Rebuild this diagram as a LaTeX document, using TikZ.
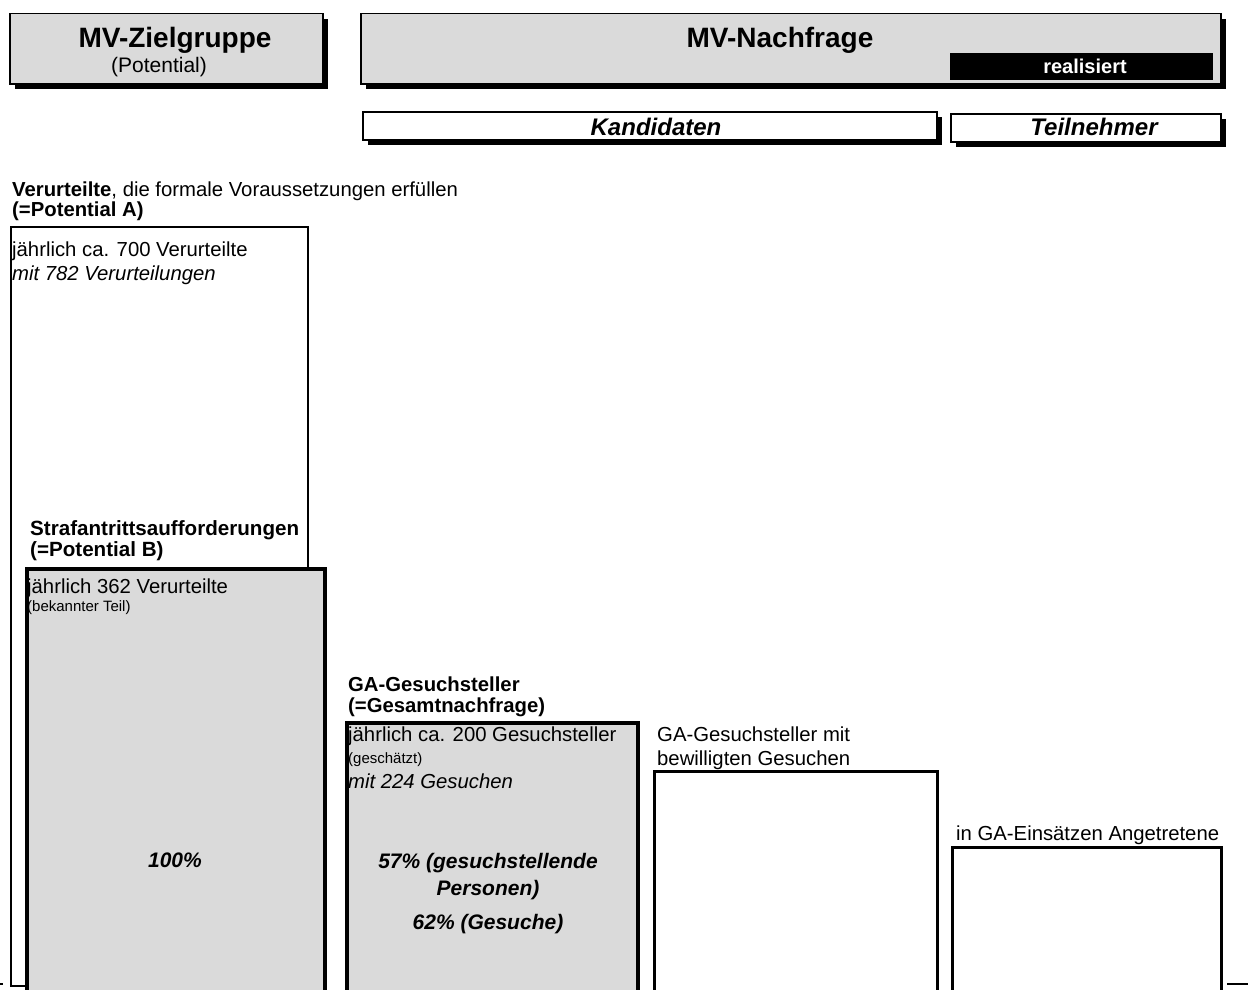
\documentclass[tikz,border=0pt]{standalone}
\usepackage{fontspec}
\setmainfont{Liberation Sans}
\usetikzlibrary{shadows}
\definecolor{fillgray}{RGB}{218,218,218}
\newcommand\myfs[1]{\fontsize{#1}{#1}\selectfont}
\tikzset{
  hdr/.style={draw=black, line width=1.5pt, fill=fillgray, inner sep=0pt, anchor=north west,
    drop shadow={shadow xshift=5pt, shadow yshift=-5pt, opacity=1, fill=black}},
  sub/.style={draw=black, line width=1.5pt, fill=white, inner sep=0pt, anchor=north west,
    drop shadow={shadow xshift=5pt, shadow yshift=-5pt, opacity=1, fill=black}},
  barw/.style={draw=black, line width=2.2pt, fill=white, inner sep=0pt, anchor=north west},
  barg/.style={draw=black, line width=4pt, fill=fillgray, inner sep=0pt, anchor=north west},
  lbl/.style={inner sep=0pt, anchor=base west, font=\myfs{20.3}},
  small/.style={inner sep=0pt, anchor=base west, font=\myfs{15}},
  pct/.style={inner sep=0pt, anchor=base, font=\myfs{21}\bfseries\itshape},
}
\begin{document}
\begin{tikzpicture}[x=1pt,y=-1pt]
\useasboundingbox (0,0) rectangle (1255,990);
\clip (0,0) rectangle (1255,990);
% header boxes
\node[hdr, minimum width=313pt, minimum height=70pt] (zg) at (9,13) {};
\node[inner sep=0pt, anchor=base, font=\myfs{28}\bfseries] (zgt) at (175,48) {MV-Zielgruppe};
\node[inner sep=0pt, anchor=base, font=\myfs{21}] (zgs) at (159,72) {(Potential)};
\node[hdr, minimum width=860pt, minimum height=70pt] (nf) at (360,13) {};
\node[inner sep=0pt, anchor=base, font=\myfs{28}\bfseries] (nft) at (780,48) {MV-Nachfrage};
\node[fill=black, inner sep=0pt, anchor=north west, minimum width=263pt, minimum height=27pt] (real) at (950,53) {};
\node[inner sep=0pt, anchor=base, font=\myfs{20}\bfseries, text=white] (realt) at (1085,74) {realisiert};
\node[sub, minimum width=574pt, minimum height=28pt] (kand) at (362,111) {};
\node[inner sep=0pt, anchor=base, font=\myfs{24}\bfseries\itshape] (kandt) at (656,135) {Kandidaten};
\node[sub, minimum width=270pt, minimum height=28pt] (teil) at (950,113) {};
\node[inner sep=0pt, anchor=base, font=\myfs{24}\bfseries\itshape] (teilt) at (1094,135) {Teilnehmer};
% bars
\node[barw, minimum width=297pt, minimum height=759pt] (pa) at (10,226) {};
\node[lbl] (pal1) at (12,196) {\textbf{Verurteilte}, die formale Voraussetzungen erfüllen};
\node[lbl, font=\myfs{20.3}\bfseries] (pal2) at (12,216) {(=Potential A)};
\node[lbl] (pai1) at (12,256) {jährlich ca. 700 Verurteilte};
\node[lbl, font=\myfs{20.3}\itshape] (pai2) at (12,280) {mit 782 Verurteilungen};

\node[barg, minimum width=298pt, minimum height=440pt] (pb) at (25,567) {};
\node[lbl, font=\myfs{20.6}\bfseries] (pbl1) at (30,535) {Strafantrittsaufforderungen};
\node[lbl, font=\myfs{20.6}\bfseries] (pbl2) at (30,556) {(=Potential B)};
\node[lbl] (pbi1) at (27,593) {jährlich 362 Verurteilte};
\node[small] (pbi2) at (27,611) {(bekannter Teil)};
\node[pct] (pbp) at (175,867) {100\%};

\node[barg, minimum width=291pt, minimum height=290pt] (ga) at (345,721) {};
\node[lbl, font=\myfs{20.3}\bfseries] (gal1) at (348,691) {GA-Gesuchsteller};
\node[lbl, font=\myfs{20.3}\bfseries] (gal2) at (348,712) {(=Gesamtnachfrage)};
\node[lbl] (gai1) at (348,741) {jährlich ca. 200 Gesuchsteller};
\node[small] (gai2) at (348,763) {(geschätzt)};
\node[lbl, font=\myfs{20.3}\itshape] (gai3) at (348,788) {mit 224 Gesuchen};
\node[pct] (gap1) at (488,868) {57\% (gesuchstellende};
\node[pct] (gap2) at (488,895) {Personen)};
\node[pct] (gap3) at (488,929) {62\% (Gesuche)};

\node[barw, minimum width=283pt, minimum height=240pt, line width=2.5pt] (bw) at (653,770) {};
\node[lbl] (bwl1) at (657,741) {GA-Gesuchsteller mit};
\node[lbl] (bwl2) at (657,765) {bewilligten Gesuchen};

\node[barw, minimum width=269pt, minimum height=164pt, line width=2.5pt] (an) at (951,846) {};
\node[lbl] (anl) at (956,840) {in GA-Einsätzen Angetretene};

% small ticks at the bottom
\draw[line width=2pt] (0,984) -- (3,984);
\draw[line width=2pt] (1227,984) -- (1248,984);
\end{tikzpicture}
\end{document}
